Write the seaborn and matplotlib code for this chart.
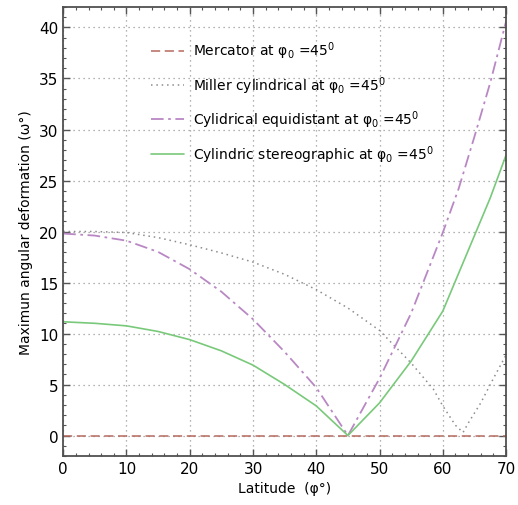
import pandas as pd
import matplotlib
matplotlib.use('Agg')
import matplotlib.pyplot as plt
import seaborn as sns
from matplotlib.ticker import MultipleLocator

# Valeurs (latitude en degrés, déformation angulaire max en degrés)
lat_mercator = [0, 70]
val_mercator = [0, 0]

lat_miller = [0, 5, 10, 15, 20, 25, 30, 35, 40, 45, 50, 55, 58.5, 60, 62, 63.2, 64, 66, 68, 70]
val_miller = [20.0, 20.0, 19.9, 19.4, 18.7, 17.9, 17.0, 15.8, 14.3, 12.5, 10.3, 7.1, 4.55, 2.9, 1.0, 0.3, 1.2, 3.2, 5.6, 7.9]

lat_equid = [0, 5, 10, 15, 20, 25, 30, 35, 40, 45, 50, 55, 60, 62.5, 65, 67.5, 70]
val_equid = [19.8, 19.6, 19.1, 18.0, 16.3, 14.1, 11.4, 8.2, 4.7, 0.0, 5.6, 12.0, 19.9, 24.2, 29.3, 34.6, 40.6]

lat_stereo = [0, 5, 10, 15, 20, 25, 30, 35, 40, 45, 50, 55, 60, 65, 67.5, 70]
val_stereo = [11.15, 11.0, 10.75, 10.2, 9.4, 8.3, 6.9, 5.0, 2.9, 0.0, 3.2, 7.3, 12.2, 19.6, 23.3, 27.5]

labels = [
    'Mercator at φ$_0$ =45$^0$',
    'Miller cylindrical at φ$_0$ =45$^0$',
    'Cylidrical equidistant at φ$_0$ =45$^0$',
    'Cylindric stereographic at φ$_0$ =45$^0$',
]

sns.set_style('white')
plt.rcParams['font.family'] = ['DejaVu Sans']
plt.rcParams['font.size'] = 10
plt.rcParams['text.color'] = 'black'
plt.rcParams['axes.labelcolor'] = 'black'

fig = plt.figure(figsize=(5.18, 5.06), dpi=100)
ax = fig.add_axes([0.122, 0.097, 0.855, 0.887])

sns.lineplot(x=lat_mercator, y=val_mercator, ax=ax, color='#b5695f', lw=1.1,
             label=labels[0])
ax.lines[-1].set_dashes([6, 3])
sns.lineplot(x=lat_miller, y=val_miller, ax=ax, color='#8c8c8c', lw=1.1,
             label=labels[1])
ax.lines[-1].set_linestyle((0, (1, 2.5)))
sns.lineplot(x=lat_equid, y=val_equid, ax=ax, color='#b988c4', lw=1.3,
             label=labels[2])
ax.lines[-1].set_linestyle((0, (7, 2.5, 1.5, 2.5)))
sns.lineplot(x=lat_stereo, y=val_stereo, ax=ax, color='#79c97a', lw=1.2,
             label=labels[3])

ax.set_xlim(0, 70)
ax.set_ylim(-2, 42)
ax.xaxis.set_major_locator(MultipleLocator(10))
ax.xaxis.set_minor_locator(MultipleLocator(2))
ax.yaxis.set_major_locator(MultipleLocator(5))
ax.yaxis.set_minor_locator(MultipleLocator(1))
ax.tick_params(which='both', direction='in', top=True, right=True,
               bottom=True, left=True, colors='#555555', labelcolor='black')
ax.tick_params(which='major', length=5, width=1, labelsize=11)
ax.tick_params(which='minor', length=2.5, width=0.8)
ax.grid(True, which='major', linestyle=(0, (1, 3)), color='#999999', lw=0.9)
for s in ax.spines.values():
    s.set_color('#505050')
    s.set_linewidth(1.3)

ax.set_xlabel('Latitude  (φ°)', fontsize=10)
ax.set_ylabel('Maximun angular deformation (ω°)', fontsize=10)

ax.legend(loc='upper left', bbox_to_anchor=(0.17, 0.955), frameon=False,
          fontsize=10, handlelength=2.4, labelspacing=0.92, handletextpad=0.6)

plt.savefig('out.png', dpi=100)
